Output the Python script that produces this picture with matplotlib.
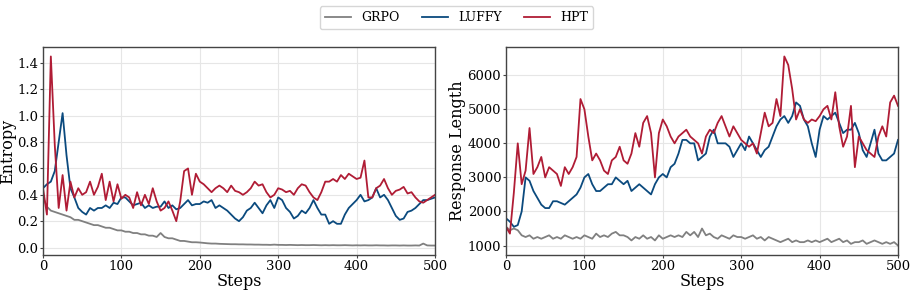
import numpy as np
import matplotlib.pyplot as plt

plt.rcParams["font.family"] = ["DejaVu Serif"]

steps = list(range(0, 501, 5))

# entropy, sampled every 5 steps
ent_grpo = [0.38, 0.31, 0.28, 0.27, 0.26, 0.25, 0.24, 0.23, 0.21, 0.21,
            0.20, 0.19, 0.18, 0.17, 0.17, 0.16, 0.15, 0.15, 0.14, 0.13,
            0.13, 0.12, 0.12, 0.11, 0.11, 0.10, 0.10, 0.09, 0.09, 0.08,
            0.11, 0.08, 0.07, 0.07, 0.06, 0.05, 0.05, 0.045, 0.04, 0.04,
            0.038, 0.035, 0.032, 0.03, 0.03, 0.028, 0.027, 0.026, 0.025, 0.025,
            0.024, 0.024, 0.023, 0.023, 0.022, 0.022, 0.021, 0.021, 0.02, 0.022,
            0.02, 0.02, 0.019, 0.02, 0.019, 0.018, 0.019, 0.018, 0.018, 0.019,
            0.018, 0.017, 0.018, 0.017, 0.018, 0.017, 0.017, 0.018, 0.017, 0.016,
            0.017, 0.016, 0.017, 0.016, 0.016, 0.017, 0.016, 0.016, 0.015, 0.016,
            0.016, 0.015, 0.016, 0.015, 0.015, 0.016, 0.015, 0.03, 0.016, 0.015,
            0.015]
ent_luffy = [0.45, 0.48, 0.50, 0.58, 0.80, 1.02, 0.70, 0.45, 0.38, 0.30,
             0.27, 0.25, 0.30, 0.28, 0.30, 0.30, 0.32, 0.30, 0.34, 0.33,
             0.38, 0.38, 0.35, 0.32, 0.33, 0.34, 0.30, 0.32, 0.30, 0.31,
             0.31, 0.35, 0.30, 0.32, 0.29, 0.30, 0.33, 0.36, 0.32, 0.33,
             0.33, 0.35, 0.34, 0.36, 0.30, 0.32, 0.30, 0.28, 0.25, 0.22,
             0.20, 0.23, 0.28, 0.30, 0.34, 0.30, 0.26, 0.32, 0.36, 0.30,
             0.38, 0.36, 0.30, 0.27, 0.22, 0.24, 0.28, 0.26, 0.30, 0.36,
             0.30, 0.25, 0.25, 0.18, 0.20, 0.18, 0.18, 0.25, 0.30, 0.33,
             0.36, 0.40, 0.35, 0.36, 0.38, 0.45, 0.38, 0.40, 0.36, 0.30,
             0.24, 0.21, 0.22, 0.27, 0.28, 0.30, 0.33, 0.36, 0.36, 0.37,
             0.38]
ent_hpt = [0.45, 0.25, 1.45, 0.78, 0.30, 0.55, 0.28, 0.50, 0.38, 0.45,
           0.40, 0.42, 0.50, 0.40, 0.46, 0.56, 0.36, 0.50, 0.35, 0.48,
           0.37, 0.40, 0.38, 0.30, 0.42, 0.32, 0.40, 0.33, 0.45, 0.35,
           0.28, 0.30, 0.35, 0.28, 0.20, 0.35, 0.58, 0.60, 0.40, 0.56,
           0.50, 0.48, 0.45, 0.42, 0.45, 0.47, 0.45, 0.42, 0.47, 0.43,
           0.42, 0.40, 0.42, 0.45, 0.50, 0.47, 0.48, 0.42, 0.38, 0.40,
           0.45, 0.44, 0.42, 0.43, 0.40, 0.45, 0.48, 0.47, 0.42, 0.38,
           0.36, 0.42, 0.50, 0.50, 0.52, 0.50, 0.55, 0.52, 0.56, 0.54,
           0.52, 0.53, 0.66, 0.38, 0.38, 0.45, 0.47, 0.52, 0.45, 0.40,
           0.43, 0.44, 0.46, 0.41, 0.42, 0.38, 0.35, 0.34, 0.36, 0.38,
           0.40]

# response length, sampled every 5 steps
len_grpo = [1550, 1450, 1500, 1450, 1300, 1250, 1300, 1200, 1250, 1200,
            1250, 1300, 1200, 1250, 1200, 1300, 1250, 1200, 1250, 1200,
            1300, 1250, 1200, 1350, 1250, 1300, 1250, 1350, 1400, 1300,
            1300, 1250, 1150, 1250, 1200, 1300, 1200, 1250, 1150, 1300,
            1200, 1250, 1300, 1250, 1300, 1250, 1400, 1300, 1400, 1250,
            1500, 1300, 1350, 1250, 1200, 1300, 1250, 1200, 1300, 1250,
            1250, 1200, 1250, 1300, 1200, 1250, 1150, 1250, 1200, 1150,
            1100, 1150, 1200, 1100, 1150, 1100, 1100, 1150, 1100, 1150,
            1100, 1150, 1200, 1100, 1150, 1200, 1100, 1150, 1050, 1100,
            1100, 1150, 1050, 1100, 1150, 1100, 1050, 1100, 1050, 1100,
            1000]
len_luffy = [1800, 1700, 1550, 1600, 2000, 3000, 2900, 2600, 2400, 2200,
             2100, 2100, 2300, 2300, 2250, 2200, 2300, 2400, 2500, 2700,
             3000, 3100, 2800, 2600, 2600, 2700, 2800, 2800, 3000, 2900,
             2800, 2900, 2600, 2700, 2800, 2700, 2600, 2500, 2800, 3000,
             3100, 3000, 3300, 3400, 3700, 4100, 4100, 4000, 4000, 3500,
             3600, 3700, 4200, 4400, 4000, 4000, 4000, 3900, 3600, 3800,
             4000, 3800, 4200, 4000, 3800, 3600, 3800, 3900, 4200, 4500,
             4700, 4800, 4600, 4800, 5200, 5100, 4700, 4500, 4000, 3600,
             4400, 4800, 4700, 4800, 4900, 4600, 4300, 4400, 4400, 4600,
             4300, 3800, 3600, 4000, 4400, 3700, 3500, 3500, 3600, 3700,
             4100]
len_hpt = [1550, 1350, 2550, 4000, 2800, 3200, 4450, 3100, 3300, 3600,
           3000, 3300, 3200, 3100, 2750, 3300, 3100, 3300, 3600, 5300,
           5000, 4200, 3500, 3700, 3500, 3200, 3100, 3500, 3600, 3900,
           3500, 3400, 3700, 4300, 3900, 4600, 4800, 4300, 3000, 4300,
           4700, 4500, 4200, 4000, 4200, 4300, 4400, 4200, 4100, 4000,
           3700, 4200, 4400, 4300, 4600, 4800, 4500, 4200, 4500, 4300,
           4100, 4000, 3900, 4000, 3700, 4300, 4900, 4500, 4600, 5300,
           4800, 6550, 6300, 5600, 4700, 5000, 4700, 4600, 4700, 4650,
           4800, 5000, 5100, 4700, 5500, 4500, 3900, 4200, 5100, 3300,
           4200, 4000, 3800, 3700, 3600, 4200, 4500, 4200, 5200, 5400,
           5100]

names = ["GRPO", "LUFFY", "HPT"]
colors = ["#808080", "#0b4a7e", "#b01c35"]

fig = plt.figure(figsize=(9.13, 2.91), dpi=100)
ax1 = fig.add_axes([43/913, 36/291, 392/913, 208/291])
ax2 = fig.add_axes([506/913, 36/291, 392/913, 208/291])

for ax, series, ylab in [(ax1, [ent_grpo, ent_luffy, ent_hpt], "Entropy"),
                         (ax2, [len_grpo, len_luffy, len_hpt], "Response Length")]:
    for s, n, c in zip(series, names, colors):
        ax.plot(steps, s, color=c, lw=1.3, label=n)
    ax.set_xlim(0, 500)
    ax.set_xlabel("Steps", fontsize=11.5, labelpad=0)
    ax.set_ylabel(ylab, fontsize=11.5, labelpad=1)
    ax.grid(True, color="#e6e6e6", lw=0.8)
    ax.set_axisbelow(True)
    ax.tick_params(labelsize=9.5, length=2, color="#444444", pad=1.5)
    for sp in ax.spines.values():
        sp.set_color("#444444")
        sp.set_linewidth(1.0)

ax1.set_yticks([0.0, 0.2, 0.4, 0.6, 0.8, 1.0, 1.2, 1.4])
ax2.set_yticks([1000, 2000, 3000, 4000, 5000, 6000])

handles, labels = ax1.get_legend_handles_labels()
fig.legend(handles, labels, loc="upper center", bbox_to_anchor=(0.5, 1.0),
           ncol=3, fontsize=9, frameon=True, handlelength=2.1,
           columnspacing=1.8, borderpad=0.4)

fig.savefig("out.png", dpi=100)
